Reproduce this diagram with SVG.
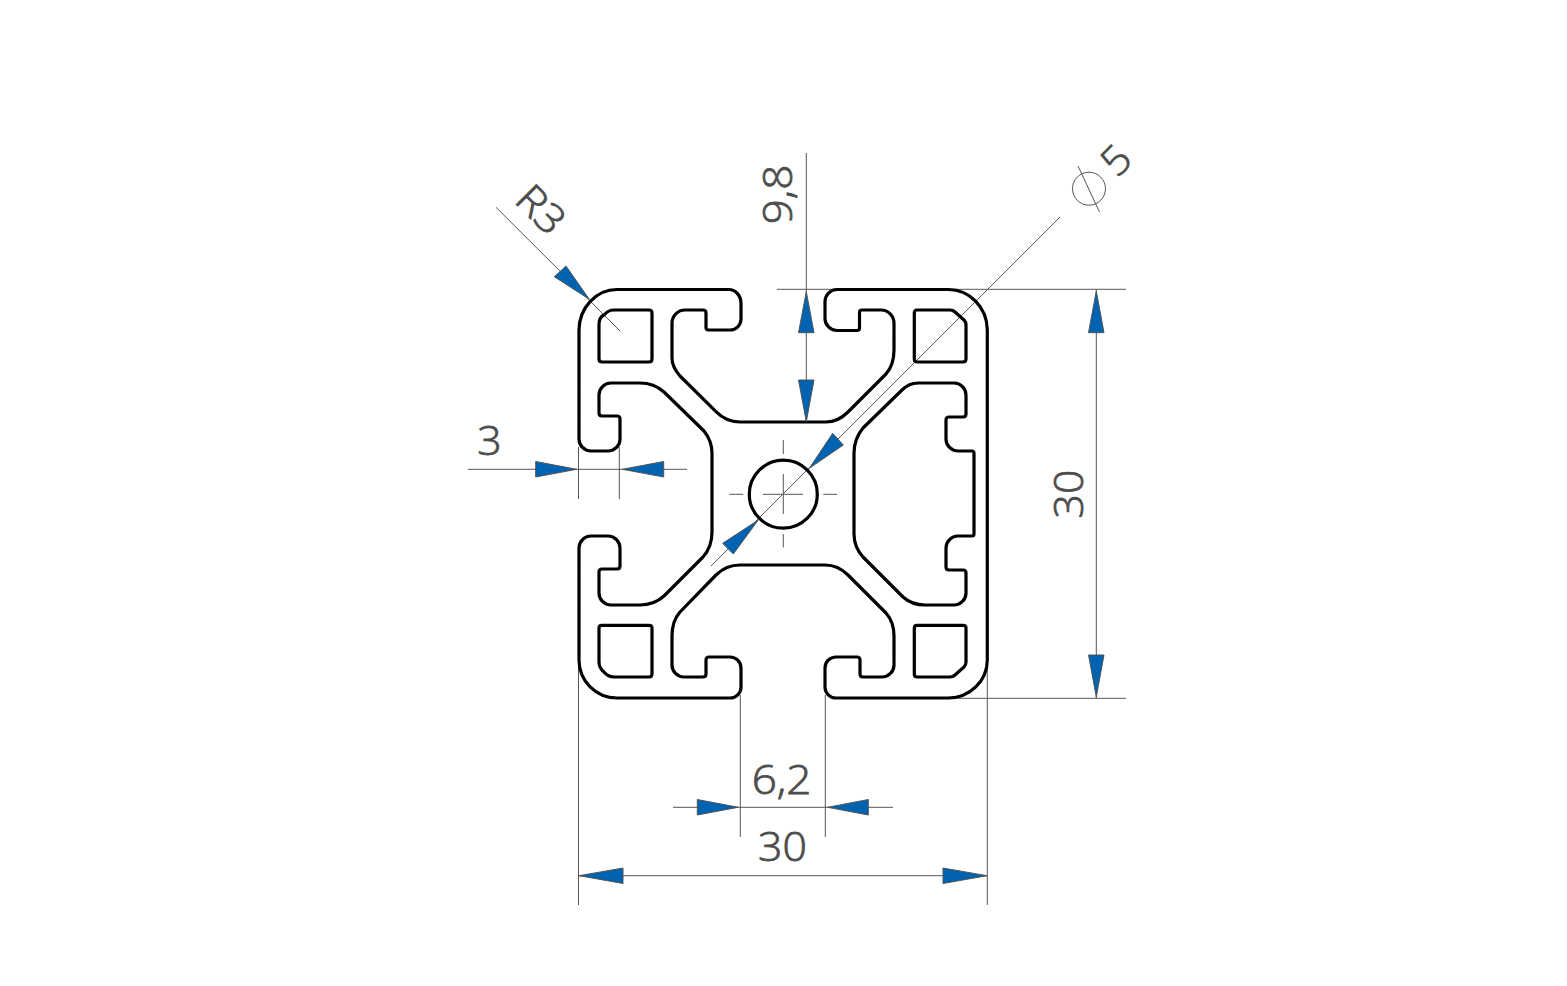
<svg xmlns="http://www.w3.org/2000/svg" width="1567" height="986" viewBox="0 0 1567 986">
<style>
.p{fill:none;stroke:#000;stroke-width:3.2;stroke-linejoin:round}
.d{fill:none;stroke:#555;stroke-width:1}
.a{fill:#0063b1;stroke:#555;stroke-width:1}
.t{font-family:"Open Sans",sans-serif;font-size:40px;font-weight:300;fill:#4d4d4d;stroke:#4d4d4d;stroke-width:.8;text-anchor:middle}
</style>
<rect width="1567" height="986" fill="#fff"/>
<g id="dimension-lines">
<path class="d" d="M468 469.3H687M578.5 447V499M619.3 447V499"/>
<path class="d" d="M673 807.3H893M740.3 695V837M825.3 695V837"/>
<path class="d" d="M578.5 665V905M987.3 665V905M578.5 875.7H987.3"/>
<path class="d" d="M777 289.3H1126M948 698.3H1126M1096.3 289.3V698.3"/>
<path class="d" d="M806.3 153V422"/>
<path class="d" d="M496 207.3L620 331"/>
<path class="d" d="M1060 217L711 566"/>
<path class="d" d="M783.3 440V454M783.3 474V514M783.3 534V547.5M729.3 494.3H743.3M763 494.3H803M823.3 494.3H837"/>
<circle class="d" cx="1089" cy="188.7" r="16.5"/>
<path class="d" d="M1078 166L1099.500 212"/>
</g>
<g id="profile">
<path class="p" d="M579 330A38 41 0 0 1 617 289.500H729A12 14 0 0 1 741 303.500V319A11 11 0 0 1 730 330H708.500Q706 330 706 327.500V313Q706 310 703 310H685A13 13 0 0 0 672 323V358Q672 367 680 376L716 411.700Q726 422 740 422H826Q838 422 848 412L886 374Q894 365 894 350V323A13 13 0 0 0 881 310H862Q859.500 310 859.500 312.500V328Q859.500 330.500 857 330.500H837A12 12 0 0 1 825 318.500V301.500A12 12 0 0 1 837 289.500H948A39 41 0 0 1 987.300 330V660A39 38 0 0 1 948 698H836A11 11 0 0 1 825 687V668A11 11 0 0 1 836 657H857Q860 657 860 660V674Q860 677 863 677H882A12 12 0 0 0 894 665V636Q894 622 886 613L848 575Q838 565 825 565H740Q726 565 716 575L680 612Q672 621 672 636V665A12 12 0 0 0 684 677H703Q706 677 706 674V660Q706 657 709 657H730A11 11 0 0 1 741 668V687A11 11 0 0 1 730 698H617A38 38 0 0 1 579 660V548A12 12 0 0 1 591 536H608A12 12 0 0 1 620 548V566Q620 569 617 569H602Q599 569 599 572V593A12 12 0 0 0 611 605H640Q654 605 664 596L703 557Q712 547 712 532V453Q712 441 704 431L664 392Q654 383 640 383H611A12 12 0 0 0 599 395V413Q599 416 602 416H617Q620 416 620 419V439A12 12 0 0 1 608 451H591A12 12 0 0 1 579 439Z"/>
<path class="p" d="M854 453Q854 439 863 428L902 390Q909 383 918 383H954A12 12 0 0 1 966 395V414Q966 417 963 417H949Q946 417 946 420V439A12 12 0 0 0 958 451H972Q974 451 974 453V534Q974 536 972 536H958A12 12 0 0 0 946 548V567Q946 570 949 570H963Q966 570 966 573V593A12 12 0 0 1 954 605H925Q912 605 903 597L863 557Q854 547 854 534Z"/>
<path class="p" d="M614 310H649Q652 310 652 313V359Q652 362 649 362H602Q599 362 599 359V325Q599 317 604 315Q608 310 614 310Z"/>
<path class="p" d="M917 310H950Q953 310 955 312L964 320Q966 322 966 325V359Q966 362 963 362H917Q914.300 362 914.300 359V313Q914.300 310 917 310Z"/>
<path class="p" d="M917 625.300H963Q966 625.300 966 628V662Q966 665 964 667L955 675Q953 677 950 677H917Q914.300 677 914.300 674V628Q914.300 625.300 917 625.300Z"/>
<path class="p" d="M602 625.300H649Q652 625.300 652 628V674Q652 677 649 677H614Q608 677 604 672Q599 668 599 662V628Q599 625.300 602 625.300Z"/>
<circle class="p" cx="783.300" cy="494.200" r="34"/>
</g>
<g id="arrowheads">
<path class="a" d="M535.700 461.500L576.700 469.300L535.700 477Z"/>
<path class="a" d="M663.700 461.500L622.300 469.300L663.700 477Z"/>
<path class="a" d="M697.300 799.500L738.300 807.300L697.300 815Z"/>
<path class="a" d="M868.300 799.500L827.700 807.300L868.300 815Z"/>
<path class="a" d="M623 868L579 875.700L623 883.500Z"/>
<path class="a" d="M943 868L987 875.700L943 883.500Z"/>
<path class="a" d="M1088.500 332.700L1096.300 291L1104 332.700Z"/>
<path class="a" d="M1088.500 655L1096.300 697L1104 655Z"/>
<path class="a" d="M798.500 332.700L806.300 291.700L814 332.700Z"/>
<path class="a" d="M798.500 380L806.300 421.700L814 380Z"/>
<path class="a" d="M566 266L589.300 299.300L554.300 276.700Z"/>
<path class="a" d="M832.700 433.300L809.300 468.300L843.300 445Z"/>
<path class="a" d="M722.700 543.300L758.300 520L733.300 554Z"/>
</g>
<g id="labels">
<text class="t" transform="translate(489.500 455) scale(1.07 1)">3</text>
<text class="t" transform="translate(781.500 794) scale(1.1 1)">6,2</text>
<text class="t" transform="translate(782.500 861) scale(1.07 1)">30</text>
<text class="t" transform="translate(1083 494) rotate(-90) scale(1.07 1)">30</text>
<text class="t" transform="translate(792.300 194.500) rotate(-90) scale(1.1 1)">9,8</text>
<text class="t" transform="translate(531 219.500) rotate(45) scale(1.1 1)">R3</text>
<text class="t" transform="translate(1126 170) rotate(-45) scale(1.07 1)">5</text>
</g>
</svg>
